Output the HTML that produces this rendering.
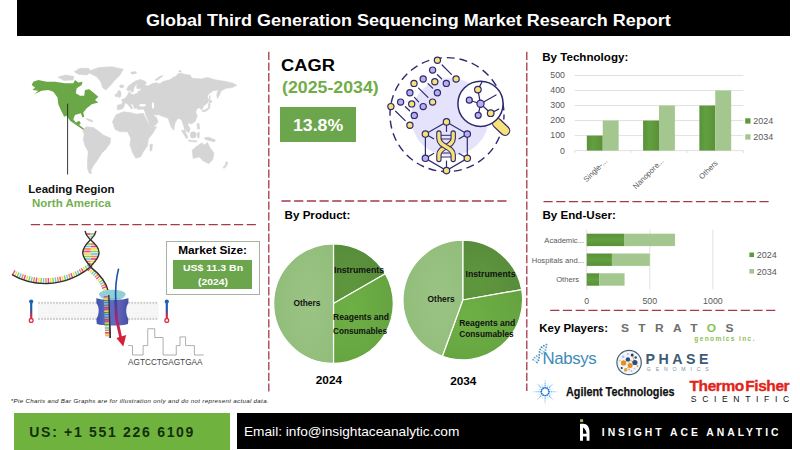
<!DOCTYPE html>
<html><head><meta charset="utf-8">
<style>
html,body{margin:0;padding:0;background:#fff;}
body{width:800px;height:450px;overflow:hidden;position:relative;font-family:"Liberation Sans",sans-serif;}
.a{position:absolute;white-space:nowrap;line-height:1;}
.b{font-weight:bold;}
#hdr{left:17px;top:0;width:773px;height:35.5px;background:#000;}
#title{left:145.9px;top:12.7px;font-size:16.8px;color:#fff;font-weight:bold;transform-origin:0 0;transform:scaleX(1.072);}
svg{position:absolute;left:0;top:0;}
svg text{font-family:"Liberation Sans",sans-serif;}
</style></head><body>
<div class="a" id="hdr"></div>
<div class="a" id="title">Global Third Generation Sequencing Market Research Report</div>

<div class="a b" id="lead" style="left:28.3px;top:183.9px;font-size:11.5px;color:#111;">Leading Region</div>
<div class="a b" id="na" style="left:32px;top:197.6px;font-size:11.5px;color:#74b04f;">North America</div>
<div class="a b" id="cagr" style="left:280.8px;top:57.8px;font-size:16.8px;color:#000;transform-origin:0 0;transform:scaleX(1.09);">CAGR</div>
<div class="a b" id="yrs" style="left:282.3px;top:78.9px;font-size:16.4px;color:#70ad47;transform-origin:0 0;transform:scaleX(1.083);">(2025-2034)</div>
<div class="a" id="cbox" style="left:280px;top:106.7px;width:75.6px;height:35.5px;background:#6ca64c;"></div>
<div class="a b" id="cval" style="left:292.5px;top:117.3px;font-size:17px;color:#fff;transform-origin:0 0;transform:scaleX(1.04);">13.8%</div>
<div class="a b" id="bytech" style="left:542.2px;top:50.6px;font-size:11.6px;color:#000;">By Technology:</div>
<div class="a b" id="byprod" style="left:284.6px;top:208.5px;font-size:11.6px;color:#000;">By Product:</div>
<div class="a b" id="byend" style="left:542.5px;top:208.7px;font-size:11.6px;color:#000;">By End-User:</div>
<div class="a b" id="y24" style="left:315.8px;top:374.6px;font-size:11.8px;color:#000;">2024</div>
<div class="a b" id="y34" style="left:450.2px;top:375.5px;font-size:11.8px;color:#000;">2034</div>

<div class="a" id="msbox" style="left:165.5px;top:240.5px;width:94.2px;height:54.4px;border:1px solid #a7b3a0;box-sizing:border-box;background:#fff;"></div>
<div class="a b" id="mst" style="left:165.5px;width:94.2px;text-align:center;top:245.4px;font-size:11.8px;color:#000;">Market Size:</div>
<div class="a" id="msg" style="left:172.7px;top:260.3px;width:79.7px;height:28.4px;background:#6ca64c;"></div>
<div class="a b" id="msv1" style="left:152.6px;width:120px;text-align:center;top:263.2px;font-size:9.4px;color:#fff;transform:scaleX(1.12);">US$ 11.3 Bn</div>
<div class="a b" id="msv2" style="left:152.6px;width:120px;text-align:center;top:277.3px;font-size:9.4px;color:#fff;transform:scaleX(1.1);">(2024)</div>
<div class="a" id="fnote" style="left:10.8px;top:397.9px;font-size:6.2px;font-style:italic;color:#222;letter-spacing:0.31px;">*Pie Charts and Bar Graphs are for illustration only and do not represent actual data.</div>
<div class="a" id="fgreen" style="left:13.5px;top:413.2px;width:216.8px;height:37px;background:#70b23e;"></div>
<div class="a b" id="fphone" style="left:29.3px;top:425.4px;font-size:14px;color:#12300a;letter-spacing:1.7px;">US: +1 551 226 6109</div>
<div class="a" id="fblack" style="left:237px;top:412.7px;width:554.7px;height:35.9px;background:#000;"></div>
<div class="a" id="femail" style="left:244px;top:425.2px;font-size:13px;color:#fff;transform-origin:0 0;transform:scaleX(1.052);">Email: info@insightaceanalytic.com</div>
<div class="a b" id="fbrand" style="left:601.8px;top:428px;font-size:10.4px;color:#fff;letter-spacing:2.95px;">INSIGHT ACE ANALYTIC</div>
<div class="a b" id="kp" style="left:539.3px;top:323.4px;font-size:11.45px;color:#000;">Key Players:</div>

<div class="a b" id="stratos" style="left:621.4px;top:322.6px;font-size:10.6px;color:#6e6e6e;letter-spacing:8.3px;transform-origin:0 0;transform:scaleX(1.13);">STRAT<span style="color:#8cc152;">O</span>S</div>
<div class="a b" id="stgen" style="left:694.3px;top:335.6px;font-size:6.6px;color:#8fc050;letter-spacing:1.35px;">genomics inc.</div>
<div class="a" id="nabsys" style="left:542.4px;top:350.8px;font-size:16.8px;color:#3d8ab8;letter-spacing:-0.35px;">Nabsys</div>
<div class="a b" id="phase" style="left:645.6px;top:352.4px;font-size:14.2px;color:#3f5a75;letter-spacing:3.5px;">PHASE</div>
<div class="a" id="phgen" style="left:646.8px;top:367px;font-size:5.2px;color:#7d93a8;letter-spacing:4.8px;">GENOMICS</div>
<div class="a b" id="agilent" style="left:565.8px;top:385.6px;font-size:12.4px;color:#111;-webkit-text-stroke:0.25px #111;transform-origin:0 0;transform:scaleX(0.872);">Agilent Technologies</div>
<div class="a b" id="thermo" style="left:689.6px;top:378.2px;font-size:15.5px;color:#e2231a;-webkit-text-stroke:0.35px #e2231a;letter-spacing:-0.45px;">Thermo<span style="margin-left:1.6px">Fisher</span></div>
<div class="a" id="scient" style="left:690.8px;top:395px;font-size:8.6px;color:#111;letter-spacing:5.63px;">SCIENTIFIC</div>

<svg id="main" width="800" height="450" viewBox="0 0 800 450">
<defs>
<linearGradient id="gd" x1="0" y1="0" x2="1" y2="0"><stop offset="0" stop-color="#5a9039"/><stop offset="0.4" stop-color="#62a040"/><stop offset="1" stop-color="#5a9039"/></linearGradient>
<linearGradient id="gdv" x1="0" y1="0" x2="0" y2="1"><stop offset="0" stop-color="#5a9039"/><stop offset="0.5" stop-color="#62a040"/><stop offset="1" stop-color="#5a9039"/></linearGradient>
<radialGradient id="p1" gradientUnits="objectBoundingBox" cx="0.3" cy="0.7" r="0.9"><stop offset="0" stop-color="#5f973d"/><stop offset="1" stop-color="#55893a"/></radialGradient>
<radialGradient id="p2" cx="0.3" cy="0.4" r="0.9"><stop offset="0" stop-color="#6fb045"/><stop offset="1" stop-color="#62a03f"/></radialGradient>
<radialGradient id="p3" cx="0.6" cy="0.5" r="0.9"><stop offset="0" stop-color="#9bc484"/><stop offset="1" stop-color="#8cb975"/></radialGradient>
<linearGradient id="pore" x1="0" y1="0" x2="1" y2="0"><stop offset="0" stop-color="#3f52a8"/><stop offset="0.35" stop-color="#5a6fc8"/><stop offset="0.65" stop-color="#6a62b8"/><stop offset="1" stop-color="#3f52a8"/></linearGradient>
<linearGradient id="arr" x1="0" y1="0" x2="0" y2="1"><stop offset="0" stop-color="#2a4aa0"/><stop offset="0.5" stop-color="#a02a6a"/><stop offset="1" stop-color="#e0213a"/></linearGradient>
<linearGradient id="pin" gradientUnits="userSpaceOnUse" x1="0" y1="302" x2="0" y2="319"><stop offset="0" stop-color="#1f5fb4"/><stop offset="0.5" stop-color="#2a55a8"/><stop offset="0.75" stop-color="#c02a4a"/><stop offset="1" stop-color="#e03045"/></linearGradient>
</defs>
<!-- dashed dividers -->
<g stroke="#a63a49" stroke-width="1.3" fill="none">
<g stroke-dasharray="8.3 2.4">
<line x1="268.8" y1="51.7" x2="268.8" y2="391.5"/>
<line x1="526.8" y1="51.7" x2="526.8" y2="391"/>
</g>
<g stroke-dasharray="9.2 3.5">
<line x1="30.8" y1="224.7" x2="258.3" y2="224.7"/>
<line x1="281.4" y1="201" x2="509" y2="201"/>
<line x1="543.5" y1="201.7" x2="771.3" y2="201.7"/>
<line x1="550.2" y1="310.4" x2="778" y2="310.4"/>
</g>
</g>

<!-- world map -->
<g fill="#d5d5d5" stroke="#d5d5d5" stroke-width="0.6" stroke-linejoin="round">
<path d="M74.2 71.7 L80 68.3 L88.3 68.3 L91.7 71.7 L86.7 75 L78.3 74.2 Z"/>
<path d="M58 77 L66 75 L74 76.5 L73 80 L64 80.5 Z"/>
<path d="M91.7 70 L99.2 67.5 L111.7 66.7 L123.3 69.2 L120 75 L115 80 L109.2 86.7 L105.8 90 L102.5 87.5 L100.8 81.7 L96.7 76.7 L90 73.3 Z"/>
<ellipse cx="121.7" cy="86.3" rx="2.2" ry="1.4"/>
<ellipse cx="119.2" cy="94" rx="1.8" ry="3.6"/>
<ellipse cx="116.3" cy="95.3" rx="1.2" ry="1.5"/>
<path d="M117.2 109.5 L117.4 105.2 L121.5 104.2 L122.8 102 L121.5 99.8 L124.5 98.5 L126.5 96.5 L128.2 94 L129.2 91.5 L130.5 93.5 L133 94.8 L137 93.5 L138.5 91 L141.5 90.2 L140 88.5 L137 88.8 L136.5 86 L138 83.8 L136 84.5 L134 88 L133.2 91.8 L131.5 92.3 L130.8 90 L128.5 90.8 L126.6 89.5 L128 86.5 L131.6 83.5 L136 80.8 L140 79.5 L144.5 80.8 L146.5 83 L144.5 85 L148 86 L151.8 83.8 L156 82.8 L160 83.8 L163 81.5 L167.7 80.3 L170 79.8 L173 77.5 L176.2 75.9 L178 73.8 L181 73 L184 74.3 L190.2 75.1 L191.8 78.2 L201.1 79 L207.3 77.4 L215.1 79.8 L224.4 81.3 L232.2 82.9 L236.9 85.2 L232.2 87.6 L226 88.3 L222.9 89.9 L221.3 90.7 L219.5 95 L217.4 98.4 L216.7 94.5 L218.2 89.9 L213.5 90.7 L208.9 93.8 L207.3 96.1 L208.9 100.8 L206.5 103.9 L203.4 106.2 L201.9 110.1 L199.5 107.8 L197.2 108.5 L195.7 111.7 L197.2 116.3 L194.9 121.8 L191 124.1 L188.7 122.5 L187.9 124.9 L190.2 128.8 L188.7 132.7 L186.3 131.1 L184.8 127.2 L184 131.9 L187.3 134.9 L186.5 136 L185.2 130.3 L183.3 125 L181.5 119.7 L178 118.3 L175.3 122.3 L173.5 130.3 L170.8 126.3 L168.1 118.3 L164.7 117 L160.7 115.7 L158 114.3 L155.9 117 L157.5 119.7 L158 122.3 L152.7 127.7 L150.5 126.9 L147.3 118.3 L145.5 114.3 L144.7 110.9 L143.3 109 L138 109.5 L136.1 107.7 L134.5 109 L133.5 105 L131.3 103.7 L130 103.1 L132.7 108.2 L131.3 109 L128.1 104.5 L126 103.1 L124.6 103.7 L124.4 105.5 L122.6 108.8 L118.5 109.8 Z"/>
<path d="M112.5 121.7 L115.8 115 L123.3 111.7 L130 112.5 L136.7 114.2 L143.3 113.3 L147.5 121.7 L150.8 127.5 L156.7 126.7 L153.3 132.5 L148.3 139.2 L147.5 145.8 L143.3 151.7 L140.8 156.7 L135.8 158.3 L132.5 152.5 L130 145 L130.8 138.3 L127.5 131.7 L120 131.7 L115 129.2 Z"/>
<path d="M150 144.5 L152.5 144 L151.8 150.5 L150 151 Z"/>
<path d="M82.5 129.2 L86.7 126.7 L93.3 127.5 L99.2 131.7 L103.3 135 L110.8 138.3 L110 143.3 L105.8 149.2 L101.7 153.3 L97.5 160 L93.3 165.8 L90.8 170.8 L91.7 173.3 L89.2 173.3 L87.5 168.3 L87.5 160 L88.3 151.7 L85 145.8 L83.3 139.2 L84.2 134.2 Z"/>
<path d="M192.1 150.3 L196.7 146.3 L202 142.9 L204.7 145 L207.3 142.3 L210 147.7 L214 153 L212.7 159.7 L208.7 163.7 L203.3 161 L199.3 157 L193.2 158.3 Z"/>
<path d="M226 161.5 L227.8 162.5 L226.5 166 L224 168.5 L223 167.5 L225.5 164.5 Z"/>
<path d="M181.5 130.5 L183.5 130 L188 137.5 L186.5 138.8 Z"/>
<ellipse cx="193.2" cy="134.9" rx="3" ry="3.2"/>
<path d="M188.7 140 L196.7 140.8 L196.5 142 L188.7 141.3 Z"/>
<path d="M197 133 L199.5 132.5 L199 138 L197.8 138 Z"/>
<path d="M204.7 137.5 L209 137.3 L215.3 140 L214.5 141.8 L209 140.5 L205 139.5 Z"/>
<path d="M197 123.5 L199 123.5 L199.5 129 L197.5 129 Z"/>
<path d="M202 110.5 L205.5 109.8 L208.3 107.5 L208.6 103.5 L210 103.8 L209.8 108 L206.5 111 L202.5 112 Z"/>
<path d="M209.2 101 L211.8 100.5 L211 103 L209.5 103 Z"/>
<path d="M86 118.5 L90.5 119.5 L93 121 L92.5 122 L88 120.5 Z"/>
</g>
<g fill="#fff"><ellipse cx="142.5" cy="105.3" rx="3.4" ry="1.3"/><ellipse cx="153" cy="105.5" rx="1.1" ry="3.3"/><path d="M154.5 114.5 L157.5 116 L157 117.2 L154 115.5 Z"/></g>
<g fill="#d5d5d5"><path d="M130 72 L136 71.3 L137 73.5 L132 74.5 Z"/><path d="M155 79.5 L160 76 L163.4 75 L162.5 76.5 L158 80 L156 81 Z"/><path d="M178.5 70.8 L181 70 L181.5 71.8 L179 72.3 Z"/><path d="M209 95.3 L210.3 95.5 L210.5 103 L209.3 103 Z"/></g>
<!-- North America -->
<path fill="#6aa746" d="M31.7 85 L33.3 81.7 L38.3 80 L46.7 81.7 L55 81.7 L65 83.3 L73.3 83.3 L75 80 L78.3 82.5 L82.5 81.7 L81.7 85 L76.7 88.3 L75.8 93.3 L80 95.8 L84.2 95.8 L85 90 L89.2 89.2 L93.3 92.5 L98.3 96.7 L95 100 L98.3 102.5 L91.7 104.2 L86.7 108.3 L83.3 112.5 L84.2 116.7 L82.5 117.5 L80.8 113.3 L75 115 L73.3 119.2 L75.8 122.5 L79.2 120.8 L80.8 123.3 L79.2 125 L82.5 127.5 L84.5 129.5 L82 129 L75 124.2 L70 120.8 L66.7 115.8 L64.2 116.7 L60.8 110 L58.3 104.2 L57.5 97.5 L53.3 91.7 L48.3 90 L41.7 90.8 L34.2 94.2 L38.3 90.8 L32.5 90 L35 87.5 Z"/>
<line x1="67.6" y1="103.7" x2="67.6" y2="174.5" stroke="#222" stroke-width="0.9"/>
<!-- tech bar chart -->
<g stroke="#d9d9d9" stroke-width="0.8">
<line x1="574.6" y1="150.60" x2="743.4" y2="150.60"/>
<line x1="574.6" y1="135.58" x2="743.4" y2="135.58"/>
<line x1="574.6" y1="120.56" x2="743.4" y2="120.56"/>
<line x1="574.6" y1="105.54" x2="743.4" y2="105.54"/>
<line x1="574.6" y1="90.52" x2="743.4" y2="90.52"/>
<line x1="574.6" y1="75.50" x2="743.4" y2="75.50"/>
</g>
<g font-size="8.8" fill="#595959" text-anchor="end">
<text x="565" y="153.50">0</text>
<text x="565" y="138.48">100</text>
<text x="565" y="123.46">200</text>
<text x="565" y="108.44">300</text>
<text x="565" y="93.42">400</text>
<text x="565" y="78.40">500</text>
</g>
<rect x="586.83" y="135.58" width="15.9" height="15.02" fill="url(#gd)"/>
<rect x="602.73" y="120.56" width="15.9" height="30.04" fill="#a3c78e"/>
<rect x="643.10" y="120.56" width="15.9" height="30.04" fill="url(#gd)"/>
<rect x="659.00" y="105.54" width="15.9" height="45.06" fill="#a3c78e"/>
<rect x="699.37" y="105.54" width="15.9" height="45.06" fill="url(#gd)"/>
<rect x="715.27" y="90.52" width="15.9" height="60.08" fill="#a3c78e"/>
<line x1="574.60" y1="150.6" x2="574.60" y2="153.1" stroke="#d9d9d9" stroke-width="0.8"/>
<line x1="630.87" y1="150.6" x2="630.87" y2="153.1" stroke="#d9d9d9" stroke-width="0.8"/>
<line x1="687.13" y1="150.6" x2="687.13" y2="153.1" stroke="#d9d9d9" stroke-width="0.8"/>
<line x1="743.40" y1="150.6" x2="743.40" y2="153.1" stroke="#d9d9d9" stroke-width="0.8"/>
<g font-size="7.6" fill="#595959" text-anchor="end">
<text transform="translate(607.8,161.4) rotate(-45)">Single-...</text>
<text transform="translate(664.1,161.4) rotate(-45)">Nanopore...</text>
<text transform="translate(718.2,163.6) rotate(-45)">Others</text>
</g>
<rect x="745.2" y="118.3" width="5.3" height="5.3" fill="#5f993e"/>
<rect x="745.2" y="134.3" width="5.3" height="5.3" fill="#a3c78e"/>
<g font-size="9" fill="#595959"><text x="753.2" y="124.2">2024</text><text x="753.2" y="140.2">2034</text></g>
<!-- pies -->
<path d="M333.5 303.6 L333.50 243.80 A59.8 59.8 0 0 1 385.29 273.70 Z" fill="url(#p1)" stroke="#fff" stroke-width="1.2"/>
<path d="M333.5 303.6 L385.29 273.70 A59.8 59.8 0 0 1 333.50 363.40 Z" fill="url(#p2)" stroke="#fff" stroke-width="1.2"/>
<path d="M333.5 303.6 L333.50 363.40 A59.8 59.8 0 0 1 333.49 243.80 Z" fill="url(#p3)" stroke="#fff" stroke-width="1.2"/>
<path d="M462.8 300 L462.80 240.20 A59.8 59.8 0 0 1 521.69 289.62 Z" fill="url(#p1)" stroke="#fff" stroke-width="1.2"/>
<path d="M462.8 300 L521.69 289.62 A59.8 59.8 0 0 1 442.35 356.19 Z" fill="url(#p2)" stroke="#fff" stroke-width="1.2"/>
<path d="M462.8 300 L442.35 356.19 A59.8 59.8 0 0 1 462.79 240.20 Z" fill="url(#p3)" stroke="#fff" stroke-width="1.2"/>
<g font-size="9" font-weight="bold" fill="#111">
<text x="334" y="273.1" textLength="50" lengthAdjust="spacingAndGlyphs">Instruments</text>
<text x="293.4" y="306.2" textLength="27" lengthAdjust="spacingAndGlyphs">Others</text>
<text x="333" y="320" textLength="56" lengthAdjust="spacingAndGlyphs">Reagents and</text>
<text x="333" y="333.5" textLength="54" lengthAdjust="spacingAndGlyphs">Consumables</text>
<text x="465.5" y="277" textLength="50" lengthAdjust="spacingAndGlyphs">Instruments</text>
<text x="427.6" y="301.7" textLength="27" lengthAdjust="spacingAndGlyphs">Others</text>
<text x="459.2" y="325.7" textLength="56" lengthAdjust="spacingAndGlyphs">Reagents and</text>
<text x="459.2" y="337.1" textLength="54.5" lengthAdjust="spacingAndGlyphs">Consumables</text>
</g>
<!-- end user chart -->
<g stroke="#d9d9d9" stroke-width="0.8">
<line x1="586.70" y1="229.7" x2="586.70" y2="289.4"/>
<line x1="649.80" y1="229.7" x2="649.80" y2="289.4"/>
<line x1="712.90" y1="229.7" x2="712.90" y2="289.4"/>
</g>
<rect x="586.7" y="233.7" width="37.86" height="12.4" fill="url(#gdv)"/>
<rect x="624.56" y="233.7" width="50.48" height="12.4" fill="#a3c78e"/>
<rect x="586.7" y="253.5" width="25.24" height="12.4" fill="url(#gdv)"/>
<rect x="611.94" y="253.5" width="37.86" height="12.4" fill="#a3c78e"/>
<rect x="586.7" y="273.3" width="12.62" height="12.4" fill="url(#gdv)"/>
<rect x="599.32" y="273.3" width="25.24" height="12.4" fill="#a3c78e"/>
<g font-size="7.6" fill="#595959" text-anchor="end">
<text x="584" y="242.7">Academic...</text>
<text x="584" y="262.5">Hospitals and...</text>
<text x="579" y="282.3">Others</text>
</g>
<g font-size="8.8" fill="#595959" text-anchor="middle">
<text x="586.70" y="304.2">0</text>
<text x="649.80" y="304.2">500</text>
<text x="712.90" y="304.2">1000</text>
</g>
<rect x="749.4" y="252.5" width="4.6" height="4.6" fill="#5f993e"/>
<rect x="749.4" y="269" width="4.6" height="4.6" fill="#a3c78e"/>
<g font-size="9" fill="#595959"><text x="756.8" y="258">2024</text><text x="756.8" y="274.5">2034</text></g>
<!-- cagr icon -->
<circle cx="450" cy="117" r="39" fill="#e5e3fb"/>
<circle cx="447" cy="114.6" r="57" fill="none" stroke="#2d2a6e" stroke-width="1.4" stroke-dasharray="8 4.9" stroke-dashoffset="3"/>
<g stroke="#2d2a6e" stroke-width="1.2" fill="none" stroke-linecap="round">
<line x1="442.1" y1="65.0" x2="451.4" y2="74.3"/>
<line x1="437.4" y1="74.7" x2="441.6" y2="78.8"/>
<line x1="428.0" y1="83.6" x2="432.7" y2="88.1"/>
<line x1="418.6" y1="88.1" x2="428.0" y2="97.4"/>
<line x1="414.5" y1="97.4" x2="418.6" y2="101.8"/>
<line x1="405.4" y1="106.7" x2="409.6" y2="110.8"/>
<line x1="395.6" y1="111.2" x2="405.2" y2="120.6"/>
</g>
<g stroke="#2d2a6e" stroke-width="1.2">
<circle cx="437.4" cy="60.3" r="3.1" fill="#f7e27a"/>
<circle cx="456.1" cy="79.0" r="3.1" fill="#f7e27a"/>
<circle cx="432.6" cy="70.1" r="3.1" fill="#b9acf0"/>
<circle cx="446.3" cy="83.4" r="3.1" fill="#b9acf0"/>
<circle cx="423.2" cy="79.0" r="3.1" fill="#b9acf0"/>
<circle cx="434.8" cy="81.7" r="3.1" fill="#f7e27a"/>
<circle cx="437.4" cy="92.7" r="3.1" fill="#b9acf0"/>
<circle cx="414.0" cy="83.4" r="3.1" fill="#f7e27a"/>
<circle cx="432.6" cy="102.1" r="3.1" fill="#f7e27a"/>
<circle cx="409.9" cy="92.7" r="3.1" fill="#b9acf0"/>
<circle cx="423.2" cy="106.6" r="3.1" fill="#b9acf0"/>
<circle cx="400.6" cy="102.1" r="3.1" fill="#b9acf0"/>
<circle cx="411.7" cy="103.9" r="3.1" fill="#f7e27a"/>
<circle cx="414.3" cy="115.4" r="3.1" fill="#b9acf0"/>
<circle cx="390.9" cy="106.6" r="3.1" fill="#f7e27a"/>
<circle cx="409.9" cy="125.2" r="3.1" fill="#f7e27a"/>
</g>
<polygon points="446.5,121.9 467.3,134.1 467.3,158.3 446.5,170.6 425.4,158.3 425.4,134.1" fill="none" stroke="#2d2a6e" stroke-width="1.2"/>
<g stroke="#2d2a6e" stroke-width="1.2" fill="none">
<line x1="446.5" y1="124.9" x2="446.5" y2="131.9"/>
<line x1="464.7" y1="135.6" x2="458.7" y2="139.1"/>
<line x1="464.7" y1="156.8" x2="458.6" y2="153.3"/>
<line x1="446.5" y1="167.6" x2="446.5" y2="160.6"/>
<line x1="428.0" y1="156.8" x2="434.1" y2="153.3"/>
<line x1="428.0" y1="135.6" x2="434.0" y2="139.1"/>
</g>
<g stroke="#2d2a6e" stroke-width="1" fill="none"><line x1="440" y1="135.3" x2="452" y2="135.3"/><line x1="441" y1="139" x2="451" y2="139"/><line x1="441" y1="153" x2="451" y2="153"/><line x1="440" y1="157" x2="452" y2="157"/></g>
<path d="M453.2 133 V138.5 C453.2 147 438.9 146.5 438.9 155 V159.5" stroke="#2d2a6e" stroke-width="5.4" fill="none" stroke-linecap="round"/>
<path d="M453.2 133 V138.5 C453.2 147 438.9 146.5 438.9 155 V159.5" stroke="#f7e27a" stroke-width="3.2" fill="none" stroke-linecap="round"/>
<path d="M438.9 133 V138.5 C438.9 147 453.2 146.5 453.2 155 V159.5" stroke="#2d2a6e" stroke-width="5.4" fill="none" stroke-linecap="round"/>
<path d="M438.9 133 V138.5 C438.9 147 453.2 146.5 453.2 155 V159.5" stroke="#f7e27a" stroke-width="3.2" fill="none" stroke-linecap="round"/>
<g stroke="#2d2a6e" stroke-width="1.2">
<circle cx="446.5" cy="121.9" r="3.2" fill="#f7e27a"/>
<circle cx="467.3" cy="134.1" r="3.2" fill="#b9acf0"/>
<circle cx="467.3" cy="158.3" r="3.2" fill="#f7e27a"/>
<circle cx="446.5" cy="170.6" r="3.2" fill="#f7e27a"/>
<circle cx="425.4" cy="158.3" r="3.2" fill="#b9acf0"/>
<circle cx="425.4" cy="134.1" r="3.2" fill="#f7e27a"/>
</g>
<line x1="497.2" y1="123.2" x2="505" y2="130.6" stroke="#2d2a6e" stroke-width="10.6" stroke-linecap="round"/>
<line x1="497.2" y1="123.2" x2="505" y2="130.6" stroke="#f7e27a" stroke-width="8.2" stroke-linecap="round"/>
<circle cx="480.5" cy="103.8" r="22.6" fill="#fff" stroke="#2d2a6e" stroke-width="1.5"/>
<g stroke="#2d2a6e" stroke-width="1.2" fill="none" stroke-linecap="round"><line x1="480.5" y1="103.8" x2="477.9" y2="89.6"/><line x1="480.5" y1="103.8" x2="469.3" y2="100.2"/><line x1="480.5" y1="103.8" x2="478.2" y2="115.3"/><line x1="480.5" y1="103.8" x2="490.7" y2="113.2"/><line x1="480.5" y1="103.8" x2="496" y2="94.9"/><line x1="477.9" y1="89.6" x2="481.8" y2="82.4"/><line x1="490.7" y1="113.2" x2="498.7" y2="109.1"/></g>
<circle cx="480.5" cy="103.8" r="3.6" fill="#b9acf0" stroke="#2d2a6e" stroke-width="1.2"/>
<circle cx="477.9" cy="89.6" r="3.3" fill="#f7e27a" stroke="#2d2a6e" stroke-width="1.2"/>
<circle cx="469.3" cy="100.2" r="3" fill="#b9acf0" stroke="#2d2a6e" stroke-width="1.2"/>
<circle cx="478.2" cy="115.3" r="3" fill="#b9acf0" stroke="#2d2a6e" stroke-width="1.2"/>
<circle cx="490.7" cy="113.2" r="3.3" fill="#f7e27a" stroke="#2d2a6e" stroke-width="1.2"/>
<!-- nanopore illustration -->
<rect x="38" y="304" width="121" height="14" fill="#f5f5f5"/>
<g stroke="#fff" stroke-width="0.9" stroke-dasharray="1 2"><line x1="38" y1="307.5" x2="159" y2="307.5"/><line x1="38" y1="311" x2="159" y2="311"/><line x1="38" y1="314.5" x2="159" y2="314.5"/></g>
<g stroke="#cfcfcf" stroke-width="2.3" stroke-linecap="round" stroke-dasharray="0.01 3">
<line x1="39" y1="302.9" x2="159" y2="302.9"/><line x1="39" y1="319" x2="159" y2="319"/></g>
<line x1="31.2" y1="302" x2="31.2" y2="319" stroke="url(#pin)" stroke-width="2.2"/>
<circle cx="31.2" cy="301.6" r="2.1" fill="#1f5fb4"/>
<circle cx="31.2" cy="320.4" r="1.9" fill="#fff" stroke="#e03045" stroke-width="1.3"/>
<line x1="166.8" y1="302" x2="166.8" y2="319" stroke="url(#pin)" stroke-width="2.2"/>
<circle cx="166.8" cy="301.6" r="2.1" fill="#1f5fb4"/>
<circle cx="166.8" cy="320.4" r="1.9" fill="#fff" stroke="#e03045" stroke-width="1.3"/>
<path d="M13.2 272.3 C30 282.5 62 287 91.5 264.6" fill="none" stroke="#e8478b" stroke-width="5.2" stroke-dasharray="1.4 10.6" stroke-dashoffset="-0.00" />
<path d="M13.2 272.3 C30 282.5 62 287 91.5 264.6" fill="none" stroke="#f3dd3e" stroke-width="5.2" stroke-dasharray="1.4 10.6" stroke-dashoffset="-2.40" />
<path d="M13.2 272.3 C30 282.5 62 287 91.5 264.6" fill="none" stroke="#8fd04a" stroke-width="5.2" stroke-dasharray="1.4 10.6" stroke-dashoffset="-4.80" />
<path d="M13.2 272.3 C30 282.5 62 287 91.5 264.6" fill="none" stroke="#6fc4ea" stroke-width="5.2" stroke-dasharray="1.4 10.6" stroke-dashoffset="-7.20" />
<path d="M13.2 272.3 C30 282.5 62 287 91.5 264.6" fill="none" stroke="#f08a3c" stroke-width="5.2" stroke-dasharray="1.4 10.6" stroke-dashoffset="-9.60" />
<path d="M12 274.7 C30 285.5 62 290 90.5 267" fill="none" stroke="#2e2e2e" stroke-width="1.35"/>
<path d="M89 268.5 C98 276 104 283 106 293 L107.8 337" fill="none" stroke="#e8478b" stroke-width="5" stroke-dasharray="1.4 10.6" stroke-dashoffset="-0.00" />
<path d="M89 268.5 C98 276 104 283 106 293 L107.8 337" fill="none" stroke="#f3dd3e" stroke-width="5" stroke-dasharray="1.4 10.6" stroke-dashoffset="-2.40" />
<path d="M89 268.5 C98 276 104 283 106 293 L107.8 337" fill="none" stroke="#8fd04a" stroke-width="5" stroke-dasharray="1.4 10.6" stroke-dashoffset="-4.80" />
<path d="M89 268.5 C98 276 104 283 106 293 L107.8 337" fill="none" stroke="#6fc4ea" stroke-width="5" stroke-dasharray="1.4 10.6" stroke-dashoffset="-7.20" />
<path d="M89 268.5 C98 276 104 283 106 293 L107.8 337" fill="none" stroke="#f08a3c" stroke-width="5" stroke-dasharray="1.4 10.6" stroke-dashoffset="-9.60" />
<path d="M90.5 266.9 C100 274.5 106.5 282 108.5 292 L110.2 338" fill="none" stroke="#2e2e2e" stroke-width="1.35"/>
<line x1="86.9" y1="234" x2="90.5" y2="234" stroke="#e8478b" stroke-width="1.7"/>
<line x1="90.5" y1="234" x2="94.1" y2="234" stroke="#8fd04a" stroke-width="1.7"/>
<line x1="88.5" y1="236.5" x2="90.5" y2="236.5" stroke="#f3dd3e" stroke-width="1.7"/>
<line x1="90.5" y1="236.5" x2="92.5" y2="236.5" stroke="#6fc4ea" stroke-width="1.7"/>
<line x1="86.9" y1="244" x2="90.8" y2="244" stroke="#8fd04a" stroke-width="1.7"/>
<line x1="90.8" y1="244" x2="94.7" y2="244" stroke="#f08a3c" stroke-width="1.7"/>
<line x1="85.0" y1="246.5" x2="90.8" y2="246.5" stroke="#6fc4ea" stroke-width="1.7"/>
<line x1="90.8" y1="246.5" x2="96.6" y2="246.5" stroke="#e8478b" stroke-width="1.7"/>
<line x1="83.6" y1="249" x2="90.8" y2="249" stroke="#f08a3c" stroke-width="1.7"/>
<line x1="90.8" y1="249" x2="98.0" y2="249" stroke="#f3dd3e" stroke-width="1.7"/>
<line x1="82.8" y1="251.5" x2="90.8" y2="251.5" stroke="#e8478b" stroke-width="1.7"/>
<line x1="90.8" y1="251.5" x2="98.8" y2="251.5" stroke="#8fd04a" stroke-width="1.7"/>
<line x1="82.6" y1="254" x2="90.8" y2="254" stroke="#f3dd3e" stroke-width="1.7"/>
<line x1="90.8" y1="254" x2="99.0" y2="254" stroke="#6fc4ea" stroke-width="1.7"/>
<line x1="83.2" y1="256.5" x2="90.8" y2="256.5" stroke="#8fd04a" stroke-width="1.7"/>
<line x1="90.8" y1="256.5" x2="98.4" y2="256.5" stroke="#f08a3c" stroke-width="1.7"/>
<line x1="84.3" y1="259" x2="90.8" y2="259" stroke="#6fc4ea" stroke-width="1.7"/>
<line x1="90.8" y1="259" x2="97.3" y2="259" stroke="#e8478b" stroke-width="1.7"/>
<line x1="86.0" y1="261.5" x2="90.8" y2="261.5" stroke="#f08a3c" stroke-width="1.7"/>
<line x1="90.8" y1="261.5" x2="95.6" y2="261.5" stroke="#f3dd3e" stroke-width="1.7"/>
<line x1="88.1" y1="264" x2="90.8" y2="264" stroke="#e8478b" stroke-width="1.7"/>
<line x1="90.8" y1="264" x2="93.5" y2="264" stroke="#8fd04a" stroke-width="1.7"/>
<path d="M85 231 C86 236 89 238 90.5 239.7 C95 244 99.5 248 99 253.5 C98.5 259 93 263 90.5 266.9" fill="none" stroke="#2e2e2e" stroke-width="1.35"/>
<path d="M96 231 C95 236 92 238 90.5 239.7 C86 244 82.3 248 82.8 253.5 C83.3 259 88 263 90.5 266.9" fill="none" stroke="#2e2e2e" stroke-width="1.35"/>
<ellipse cx="112.3" cy="294.3" rx="13.3" ry="4.6" fill="#8fd0d8"/>
<path d="M96.4 298 C101 300.5 123.5 300.5 128.4 298 L128.4 303 C125.5 307 125.5 314 128.4 319 L128 324 C122 326 103 326 96.8 324 L96.4 319 C99.5 314 99.5 307 96.4 303 Z" fill="url(#pore)"/>
<path d="M99.2 296 C104 299 121 299 125.6 296 C121 301.5 104 301.5 99.2 296 Z" fill="#6db4c4" opacity="0.8"/>
<path d="M106.2 296 L107.6 337" fill="none" stroke="#e8478b" stroke-width="5" stroke-dasharray="1.4 10.6" stroke-dashoffset="-0.00" />
<path d="M106.2 296 L107.6 337" fill="none" stroke="#f3dd3e" stroke-width="5" stroke-dasharray="1.4 10.6" stroke-dashoffset="-2.40" />
<path d="M106.2 296 L107.6 337" fill="none" stroke="#8fd04a" stroke-width="5" stroke-dasharray="1.4 10.6" stroke-dashoffset="-4.80" />
<path d="M106.2 296 L107.6 337" fill="none" stroke="#6fc4ea" stroke-width="5" stroke-dasharray="1.4 10.6" stroke-dashoffset="-7.20" />
<path d="M106.2 296 L107.6 337" fill="none" stroke="#f08a3c" stroke-width="5" stroke-dasharray="1.4 10.6" stroke-dashoffset="-9.60" />
<path d="M108.8 295 L110.2 338" fill="none" stroke="#2e2e2e" stroke-width="1.35"/>
<path d="M118.6 268.6 C115.6 280 115.2 292 115.8 302 L116.4 318" fill="none" stroke="#1c4fa8" stroke-width="1.6"/>
<path d="M115.7 300 L116.4 318 L120.8 338" fill="none" stroke="url(#arr)" stroke-width="2.9"/>
<path d="M116.4 338 L126.2 334.9 L123.3 346.6 Z" fill="#d81f38"/>
<path d="M128.1 345.6 H132.5 V355 H143.1 V345.6 H147.75 V328.75 H154.75 V337.5 H163.1 V355 H176.25 V345.6 H180 V336.9 H185.6 V345.6 H194.4 V355 H203.75" fill="none" stroke="#9a9a9a" stroke-width="0.8"/>
<text x="128.1" y="365.3" font-size="8.2" fill="#444" textLength="74.4" lengthAdjust="spacingAndGlyphs">AGTCCTGAGTGAA</text>
<!-- logos -->
<line x1="537.0" y1="362.4" x2="533.0" y2="359.6" stroke="#8fc0dc" stroke-width="0.7"/>
<circle cx="537.0" cy="362.4" r="0.85" fill="#3d8ab8"/>
<circle cx="533.0" cy="359.6" r="0.85" fill="#5aa3cc"/>
<line x1="538.5" y1="360.3" x2="534.4" y2="357.5" stroke="#8fc0dc" stroke-width="0.7"/>
<circle cx="538.5" cy="360.3" r="0.85" fill="#3d8ab8"/>
<circle cx="534.4" cy="357.5" r="0.85" fill="#5aa3cc"/>
<line x1="539.1" y1="357.7" x2="536.6" y2="356.0" stroke="#8fc0dc" stroke-width="0.7"/>
<circle cx="539.1" cy="357.7" r="0.85" fill="#3d8ab8"/>
<circle cx="536.6" cy="356.0" r="0.85" fill="#5aa3cc"/>
<line x1="539.3" y1="354.8" x2="539.3" y2="354.8" stroke="#8fc0dc" stroke-width="0.7"/>
<circle cx="539.3" cy="354.8" r="0.85" fill="#3d8ab8"/>
<circle cx="539.3" cy="354.8" r="0.85" fill="#5aa3cc"/>
<line x1="539.5" y1="351.9" x2="542.0" y2="353.6" stroke="#8fc0dc" stroke-width="0.7"/>
<circle cx="539.5" cy="351.9" r="0.85" fill="#3d8ab8"/>
<circle cx="542.0" cy="353.6" r="0.85" fill="#5aa3cc"/>
<line x1="540.1" y1="349.3" x2="544.2" y2="352.1" stroke="#8fc0dc" stroke-width="0.7"/>
<circle cx="540.1" cy="349.3" r="0.85" fill="#3d8ab8"/>
<circle cx="544.2" cy="352.1" r="0.85" fill="#5aa3cc"/>
<line x1="541.6" y1="347.2" x2="545.6" y2="350.0" stroke="#8fc0dc" stroke-width="0.7"/>
<circle cx="541.6" cy="347.2" r="0.85" fill="#3d8ab8"/>
<circle cx="545.6" cy="350.0" r="0.85" fill="#5aa3cc"/>
<line x1="543.8" y1="345.7" x2="546.3" y2="347.4" stroke="#8fc0dc" stroke-width="0.7"/>
<circle cx="543.8" cy="345.7" r="0.85" fill="#3d8ab8"/>
<circle cx="546.3" cy="347.4" r="0.85" fill="#5aa3cc"/>
<line x1="546.5" y1="344.5" x2="546.5" y2="344.5" stroke="#8fc0dc" stroke-width="0.7"/>
<circle cx="546.5" cy="344.5" r="0.85" fill="#3d8ab8"/>
<circle cx="546.5" cy="344.5" r="0.85" fill="#5aa3cc"/>
<circle cx="629.1" cy="362.5" r="12.2" fill="#f1f6fa" stroke="#4a6072" stroke-width="1.2"/>
<path d="M623.6 362.9 L627.9 359.4 L634.9 362.5 M630.1 365.4 L625.6 369.9 M627.9 359.4 L630.1 365.4 M632.2 355.1 L634.9 362.5" stroke="#c9a36a" stroke-width="0.8" fill="none"/>
<circle cx="623.6" cy="362.9" r="2.7" fill="#e8901e"/>
<circle cx="630.1" cy="365.4" r="2.5" fill="#e8901e"/>
<circle cx="625.6" cy="369.9" r="1.8" fill="#eba04a"/>
<circle cx="619.8" cy="360.5" r="0.8" fill="#f0b36a"/>
<circle cx="631.5" cy="371" r="0.9" fill="#f0b36a"/>
<circle cx="627.9" cy="359.4" r="2.2" fill="#2e4d7e"/>
<circle cx="634.9" cy="362.5" r="2.6" fill="#2e4d7e"/>
<circle cx="632.2" cy="355.1" r="1.5" fill="#2a3f60"/>
<circle cx="635.7" cy="357.5" r="1.3" fill="#35507a"/>
<circle cx="621.7" cy="368" r="1.1" fill="#2a3550"/>
<circle cx="627.9" cy="354" r="1" fill="#b9b4e0"/>
<circle cx="623.2" cy="356.7" r="1.3" fill="#a9bfe0"/>
<circle cx="637.5" cy="366" r="0.9" fill="#c9a36a"/>
<circle cx="634.5" cy="368.5" r="0.8" fill="#b9b4e0"/>
<circle cx="629" cy="369.5" r="0.9" fill="#9fb4d8"/>
<circle cx="549.00" cy="391.70" r="0.95" fill="#1a6fc9"/>
<circle cx="548.48" cy="393.65" r="0.95" fill="#1a6fc9"/>
<circle cx="547.05" cy="395.08" r="0.95" fill="#1a6fc9"/>
<circle cx="545.10" cy="395.60" r="0.95" fill="#1a6fc9"/>
<circle cx="543.15" cy="395.08" r="0.95" fill="#1a6fc9"/>
<circle cx="541.72" cy="393.65" r="0.95" fill="#1a6fc9"/>
<circle cx="541.20" cy="391.70" r="0.95" fill="#1a6fc9"/>
<circle cx="541.72" cy="389.75" r="0.95" fill="#1a6fc9"/>
<circle cx="543.15" cy="388.32" r="0.95" fill="#1a6fc9"/>
<circle cx="545.10" cy="387.80" r="0.95" fill="#1a6fc9"/>
<circle cx="547.05" cy="388.32" r="0.95" fill="#1a6fc9"/>
<circle cx="548.48" cy="389.75" r="0.95" fill="#1a6fc9"/>
<circle cx="551.40" cy="391.70" r="0.80" fill="#4aa3e6" opacity="0.85"/>
<circle cx="553.30" cy="391.70" r="0.70" fill="#4aa3e6" opacity="0.68"/>
<circle cx="555.10" cy="391.70" r="0.60" fill="#4aa3e6" opacity="0.51"/>
<circle cx="556.70" cy="391.70" r="0.50" fill="#4aa3e6" opacity="0.34"/>
<circle cx="558.10" cy="391.70" r="0.40" fill="#4aa3e6" opacity="0.17"/>
<circle cx="549.55" cy="396.15" r="0.80" fill="#4aa3e6" opacity="0.85"/>
<circle cx="550.76" cy="397.36" r="0.70" fill="#4aa3e6" opacity="0.68"/>
<circle cx="551.89" cy="398.49" r="0.60" fill="#4aa3e6" opacity="0.51"/>
<circle cx="552.88" cy="399.48" r="0.50" fill="#4aa3e6" opacity="0.34"/>
<circle cx="545.10" cy="398.00" r="0.80" fill="#4aa3e6" opacity="0.85"/>
<circle cx="545.10" cy="399.90" r="0.70" fill="#4aa3e6" opacity="0.68"/>
<circle cx="545.10" cy="401.70" r="0.60" fill="#4aa3e6" opacity="0.51"/>
<circle cx="545.10" cy="403.30" r="0.50" fill="#4aa3e6" opacity="0.34"/>
<circle cx="545.10" cy="404.70" r="0.40" fill="#4aa3e6" opacity="0.17"/>
<circle cx="540.65" cy="396.15" r="0.80" fill="#4aa3e6" opacity="0.85"/>
<circle cx="539.44" cy="397.36" r="0.70" fill="#4aa3e6" opacity="0.68"/>
<circle cx="538.31" cy="398.49" r="0.60" fill="#4aa3e6" opacity="0.51"/>
<circle cx="537.32" cy="399.48" r="0.50" fill="#4aa3e6" opacity="0.34"/>
<circle cx="538.80" cy="391.70" r="0.80" fill="#4aa3e6" opacity="0.85"/>
<circle cx="536.90" cy="391.70" r="0.70" fill="#4aa3e6" opacity="0.68"/>
<circle cx="535.10" cy="391.70" r="0.60" fill="#4aa3e6" opacity="0.51"/>
<circle cx="533.50" cy="391.70" r="0.50" fill="#4aa3e6" opacity="0.34"/>
<circle cx="532.10" cy="391.70" r="0.40" fill="#4aa3e6" opacity="0.17"/>
<circle cx="540.65" cy="387.25" r="0.80" fill="#4aa3e6" opacity="0.85"/>
<circle cx="539.44" cy="386.04" r="0.70" fill="#4aa3e6" opacity="0.68"/>
<circle cx="538.31" cy="384.91" r="0.60" fill="#4aa3e6" opacity="0.51"/>
<circle cx="537.32" cy="383.92" r="0.50" fill="#4aa3e6" opacity="0.34"/>
<circle cx="545.10" cy="385.40" r="0.80" fill="#4aa3e6" opacity="0.85"/>
<circle cx="545.10" cy="383.50" r="0.70" fill="#4aa3e6" opacity="0.68"/>
<circle cx="545.10" cy="381.70" r="0.60" fill="#4aa3e6" opacity="0.51"/>
<circle cx="545.10" cy="380.10" r="0.50" fill="#4aa3e6" opacity="0.34"/>
<circle cx="545.10" cy="378.70" r="0.40" fill="#4aa3e6" opacity="0.17"/>
<circle cx="549.55" cy="387.25" r="0.80" fill="#4aa3e6" opacity="0.85"/>
<circle cx="550.76" cy="386.04" r="0.70" fill="#4aa3e6" opacity="0.68"/>
<circle cx="551.89" cy="384.91" r="0.60" fill="#4aa3e6" opacity="0.51"/>
<circle cx="552.88" cy="383.92" r="0.50" fill="#4aa3e6" opacity="0.34"/>
<circle cx="550.64" cy="394.00" r="0.60" fill="#7fc0f0" opacity="0.70"/>
<circle cx="552.12" cy="394.61" r="0.50" fill="#7fc0f0" opacity="0.45"/>
<circle cx="547.40" cy="397.24" r="0.60" fill="#7fc0f0" opacity="0.70"/>
<circle cx="548.01" cy="398.72" r="0.50" fill="#7fc0f0" opacity="0.45"/>
<circle cx="542.80" cy="397.24" r="0.60" fill="#7fc0f0" opacity="0.70"/>
<circle cx="542.19" cy="398.72" r="0.50" fill="#7fc0f0" opacity="0.45"/>
<circle cx="539.56" cy="394.00" r="0.60" fill="#7fc0f0" opacity="0.70"/>
<circle cx="538.08" cy="394.61" r="0.50" fill="#7fc0f0" opacity="0.45"/>
<circle cx="539.56" cy="389.40" r="0.60" fill="#7fc0f0" opacity="0.70"/>
<circle cx="538.08" cy="388.79" r="0.50" fill="#7fc0f0" opacity="0.45"/>
<circle cx="542.80" cy="386.16" r="0.60" fill="#7fc0f0" opacity="0.70"/>
<circle cx="542.19" cy="384.68" r="0.50" fill="#7fc0f0" opacity="0.45"/>
<circle cx="547.40" cy="386.16" r="0.60" fill="#7fc0f0" opacity="0.70"/>
<circle cx="548.01" cy="384.68" r="0.50" fill="#7fc0f0" opacity="0.45"/>
<circle cx="550.64" cy="389.40" r="0.60" fill="#7fc0f0" opacity="0.70"/>
<circle cx="552.12" cy="388.79" r="0.50" fill="#7fc0f0" opacity="0.45"/>
<rect x="580.1" y="419.2" width="3" height="2.9" fill="#a3b56a"/>
<path d="M580 440.8 V423.7 H583 C587.2 423.7 589.5 427 589.5 432 V440.8 H586.6 V436.6 H583 V440.8 Z" fill="#fff"/>
<path d="M583 433.8 V427.6 C584.8 428.6 586.4 431 586.6 433.8 Z" fill="#000"/>
</svg>
</body></html>
